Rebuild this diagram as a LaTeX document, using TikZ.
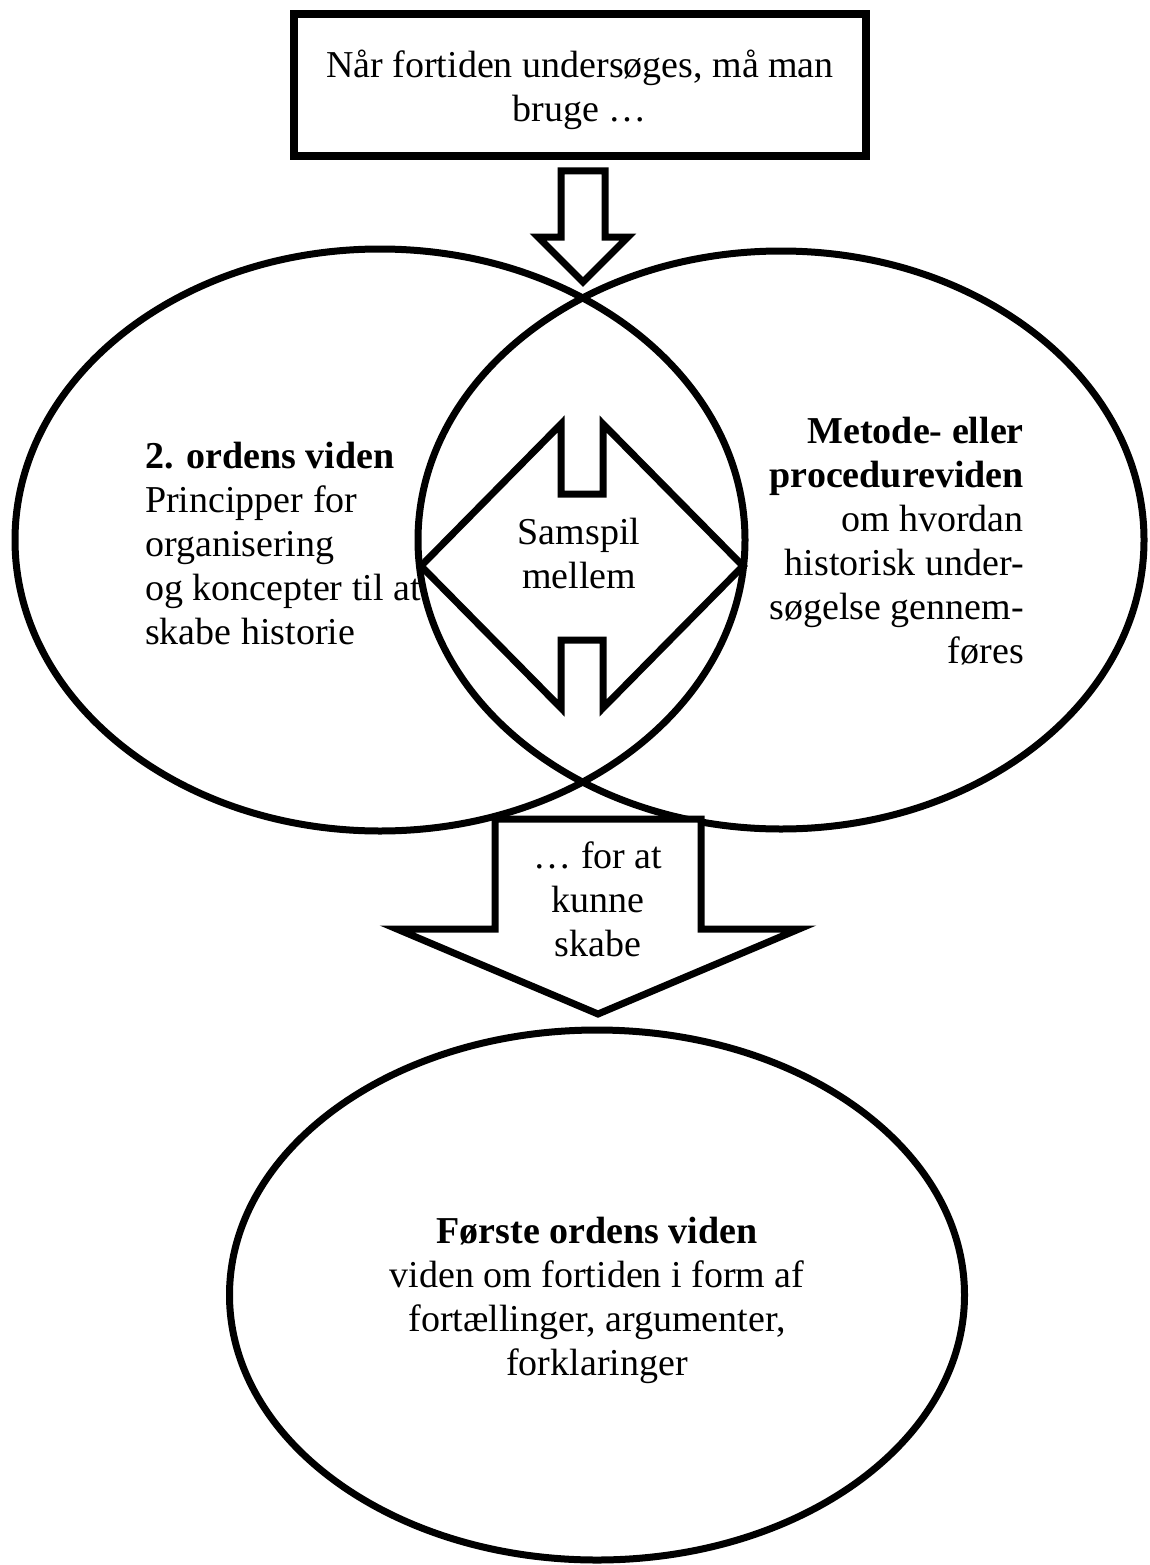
\documentclass[tikz,border=0pt]{standalone}
\usepackage{fontspec}
\setmainfont{Liberation Serif}
\usetikzlibrary{shapes.geometric}
\begin{document}
\begin{tikzpicture}[x=1pt,y=-1pt,
  txt/.style={font=\fontsize{38}{44}\selectfont, inner sep=0pt},
  oval/.style={ellipse, draw, line width=7pt, inner sep=0pt},
  blockarrow/.style={draw, fill=white, line width=7pt, line join=miter}]
\useasboundingbox[fill=white] (0,0) rectangle (1149,1565);
% ovals
\node[oval, minimum width=730pt, minimum height=582pt] (left) at (380,540) {};
\node[oval, minimum width=726pt, minimum height=578pt] (right) at (781,540) {};
\node[oval, minimum width=735pt, minimum height=530pt] (bottom) at (597,1295) {};
% top box
\node[draw, line width=8pt, minimum width=572pt, minimum height=142pt, inner sep=0pt] (top) at (580,85) {};
\node[txt, align=center] (toptext) at (580,90) {Når fortiden undersøges, må man\\bruge …};
% block arrows
\draw[blockarrow] (561,171) -- (605,171) -- (605,237) -- (628,237) -- (583,282) -- (538,237) -- (561,237) -- cycle;
\draw[blockarrow] (561,424) -- (561,494) -- (603,494) -- (603,424) -- (743,566) -- (603,708) -- (603,640) -- (561,640) -- (561,708) -- (421,566) -- cycle;
\draw[blockarrow] (495,819) -- (701,819) -- (701,929) -- (799,929) -- (598,1014) -- (397,929) -- (495,929) -- cycle;
% texts
\node[txt, align=left, anchor=west] (ltext) at (145,543) {\textbf{2. ordens viden}\\Principper for\\organisering\\og koncepter til at\\skabe historie};
\node[txt, align=right, anchor=east] (rtext) at (1024,541) {\textbf{Metode- eller}\\\textbf{procedureviden}\\om hvordan\\historisk under-\\søgelse gennem-\\føres};
\node[txt, align=center] (mid) at (579,553) {Samspil\\mellem};
\node[txt, align=center] (btxt) at (598,899) {… for at\\kunne\\skabe};
\node[txt, align=center] (ctext) at (597,1300) {\textbf{Første ordens viden}\\viden om fortiden i form af\\fortællinger, argumenter,\\forklaringer};
\end{tikzpicture}
\end{document}
